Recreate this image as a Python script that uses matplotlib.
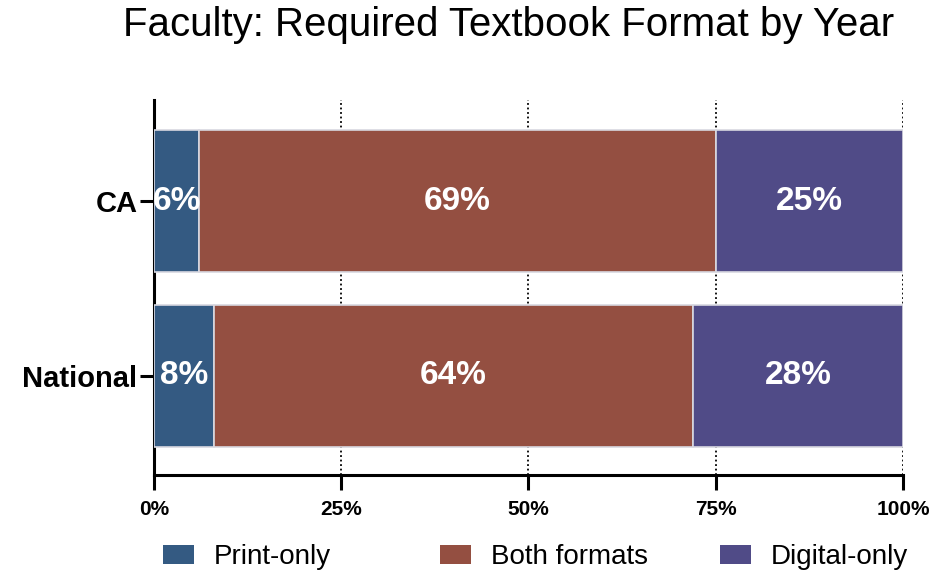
import matplotlib
matplotlib.use("Agg")
import matplotlib.pyplot as plt
import numpy as np

# Data
groups = ["National", "CA"]
categories = ["Print-only", "Both formats", "Digital-only"]
print_only = [8, 6]
both_formats = [64, 69]
digital_only = [28, 25]
colors = ["#345A82", "#944F41", "#504B87"]
x_ticks = [0, 25, 50, 75, 100]
x_tick_labels = ["0%", "25%", "50%", "75%", "100%"]

plt.rcParams["font.family"] = ["Liberation Sans", "DejaVu Sans"]

fig = plt.figure(figsize=(9.36, 5.76), dpi=100)
ax = fig.add_axes([0.1645, 0.1753, 0.8002, 0.651])

y = np.arange(len(groups))
left = np.zeros(len(groups))
handles = []
for name, vals, col in zip(categories, [print_only, both_formats, digital_only], colors):
    vals = np.array(vals, dtype=float)
    bars = ax.barh(y, vals, left=left, height=0.81, color=col,
                   edgecolor="#D8D8E0", linewidth=1.2, label=name, zorder=3)
    handles.append(bars)
    for yi, l, v in zip(y, left, vals):
        ax.text(l + v / 2, yi, f"{int(v)}%", ha="center", va="center",
                color="white", fontsize=24, fontweight="bold", zorder=4)
    left += vals

# dotted vertical grid behind the bars
for xt in x_ticks[1:]:
    ax.axvline(xt, color="black", linestyle=(0, (1, 1.5)), linewidth=1.3, zorder=1)

ax.set_xlim(0, 100)
ax.set_ylim(-0.566, 1.577)
ax.set_xticks(x_ticks)
ax.set_xticklabels(x_tick_labels, fontsize=15, fontweight="bold")
ax.set_yticks(y)
ax.set_yticklabels(groups, fontsize=21, fontweight="bold")

for side in ["top", "right"]:
    ax.spines[side].set_visible(False)
for side in ["left", "bottom"]:
    ax.spines[side].set_linewidth(2.2)
ax.tick_params(axis="x", length=11, width=2.2, pad=7)
ax.tick_params(axis="y", length=10, width=2.2, pad=2)

fig.suptitle("Faculty: Required Textbook Format by Year", fontsize=29,
             x=0.543, y=0.99, va="top")

# legend entries sit at fixed column positions
legend_x = [163 / 936, 440 / 936, 720 / 936]
for h, name, lx in zip(handles, categories, legend_x):
    leg = fig.legend([h], [name], loc="center left", bbox_to_anchor=(lx, 0.033),
                     frameon=False, fontsize=20, handlelength=1.1, handleheight=0.65,
                     handletextpad=0.72, borderpad=0, borderaxespad=0)
    leg.legend_handles[0].set_edgecolor("none")

fig.savefig("out.png", dpi=100)
